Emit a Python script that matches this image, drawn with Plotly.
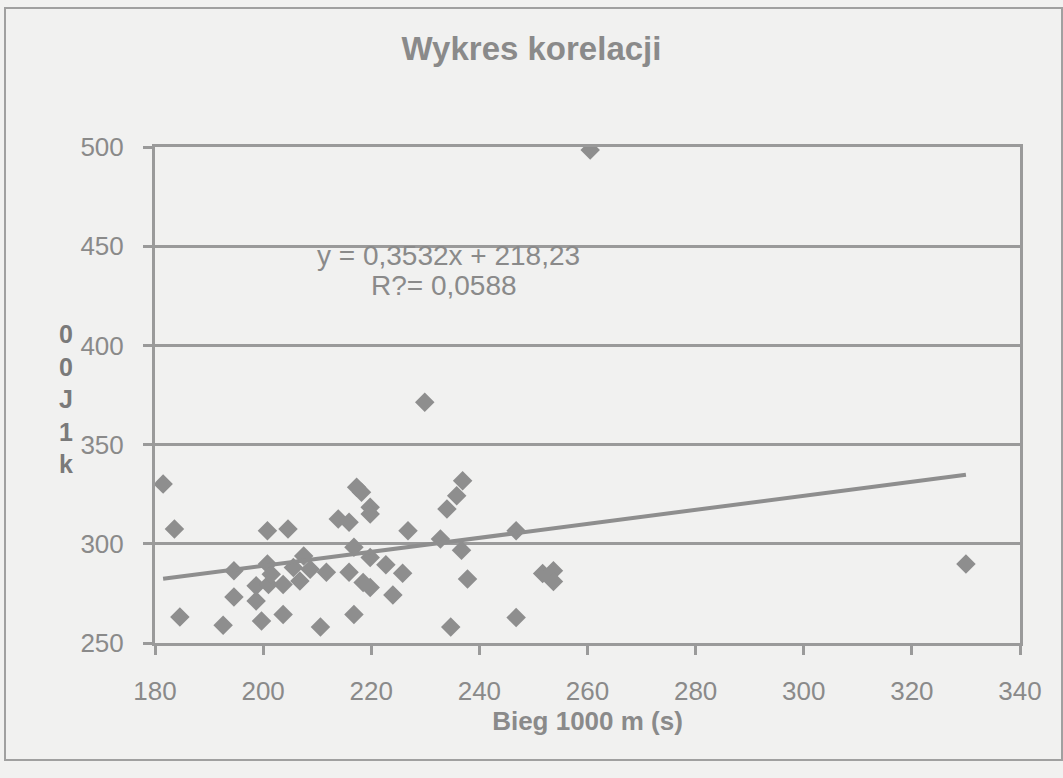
import plotly.graph_objects as go

# Data (Bieg 1000 m (s) vs. second variable)
bieg_1000m = [181.5, 183.6, 184.6, 192.6, 194.6, 194.6, 198.7, 198.7, 199.7, 200.8,
              200.8, 201.0, 201.5, 203.7, 203.7, 204.6, 205.6, 206.8, 207.5, 208.7,
              210.6, 211.7, 213.9, 215.9, 215.9, 216.8, 216.8, 217.3, 218.2, 219.8,
              219.8, 218.5, 219.8, 219.8, 222.7, 224.0, 229.9, 236.9, 235.8, 234.0,
              226.8, 232.8, 236.7, 225.8, 237.8, 234.7, 246.8, 246.8, 251.7, 253.7,
              253.7, 260.5, 330.0]
wynik = [330.1, 307.4, 263.1, 259.0, 273.2, 286.4, 271.2, 278.8, 261.1, 306.6,
         289.8, 279.5, 284.7, 279.5, 264.4, 307.4, 288.1, 281.3, 293.9, 287.2,
         258.1, 285.6, 312.5, 310.8, 285.6, 264.4, 298.2, 328.5, 326.0, 318.4,
         315.0, 280.5, 278.0, 293.1, 289.4, 274.2, 371.4, 331.8, 324.2, 317.5,
         306.6, 302.4, 296.8, 285.1, 282.2, 258.1, 306.6, 262.8, 285.0, 286.4,
         281.0, 498.5, 289.8]

slope = 0.3532
intercept = 218.23
equation_text = "y = 0,3532x + 218,23"
r2_text = "R?= 0,0588"
x_ticks = [180, 200, 220, 240, 260, 280, 300, 320, 340]
y_ticks = [250, 300, 350, 400, 450, 500]

grey = "#8e8e8e"
text_grey = "#8a8a8a"
bg = "#f1f1f0"

x_min, x_max = min(bieg_1000m), max(bieg_1000m)
trend_x = [x_min, x_max]
trend_y = [slope * v + intercept for v in trend_x]

fig = go.Figure()
fig.add_trace(go.Scatter(
    x=bieg_1000m, y=wynik, mode="markers",
    marker=dict(symbol="diamond", size=15, color=grey,
                line=dict(width=0)),
    showlegend=False, hoverinfo="x+y"))
fig.add_trace(go.Scatter(
    x=trend_x, y=trend_y, mode="lines",
    line=dict(color=grey, width=4),
    showlegend=False, hoverinfo="skip"))

font_main = "Liberation Sans, Arial, sans-serif"
font_narrow = "Liberation Sans Narrow, Arial Narrow, Liberation Sans, Arial, sans-serif"

fig.update_layout(
    width=1063, height=778,
    margin=dict(l=155, r=43, t=147, b=135),
    paper_bgcolor=bg, plot_bgcolor=bg,
    title=dict(text="<b>Wykres korelacji</b>", x=0.5, xanchor="center",
               y=1 - 48 / 778, yanchor="middle",
               font=dict(family=font_narrow, size=33, color=text_grey)),
    xaxis=dict(range=[180, 340], tickvals=x_ticks, showgrid=False,
               zeroline=False, showline=True, linecolor="#9a9a9a", linewidth=3,
               mirror=True, ticks="outside", ticklen=9, tickwidth=3,
               tickcolor="#9a9a9a", ticklabelstandoff=14,
               tickfont=dict(family=font_main, size=26, color=text_grey),
               title=dict(text="<b>Bieg 1000 m (s)</b>", standoff=4,
                          font=dict(family=font_narrow, size=26, color=text_grey))),
    yaxis=dict(range=[250, 500], tickvals=y_ticks, showgrid=True,
               gridcolor="#9a9a9a", gridwidth=3, zeroline=False,
               showline=True, linecolor="#9a9a9a", linewidth=3, mirror=True,
               ticks="outside", ticklen=9, tickwidth=3, tickcolor="#9a9a9a",
               ticklabelstandoff=14,
               tickfont=dict(family=font_main, size=26, color=text_grey)),
    annotations=[
        dict(x=234.2, y=445.5, xref="x", yref="y", text=equation_text,
             showarrow=False, font=dict(family=font_main, size=28, color=text_grey)),
        dict(x=233.5, y=430.3, xref="x", yref="y", text=r2_text,
             showarrow=False, font=dict(family=font_main, size=28, color=text_grey)),
        dict(x=(66 - 155) / 865, y=373, xref="paper", yref="y",
             text="<b>0<br>0<br>J<br>1<br>k</b>", showarrow=False,
             xanchor="center", yanchor="middle",
             font=dict(family=font_main, size=25, color="#7a7a7a")),
    ],
    shapes=[
        dict(type="rect", xref="paper", yref="paper",
             x0=(5 - 155) / 865, x1=(1062 - 155) / 865,
             y0=(643 - 760) / 496, y1=(643 - 8) / 496,
             line=dict(color="#a0a0a0", width=2), layer="below"),
    ],
)

fig.write_html(
    "out.html",
    config={"displayModeBar": False},
    post_script="document.body.style.margin='0';document.body.style.background='#f1f1f0';",
)
